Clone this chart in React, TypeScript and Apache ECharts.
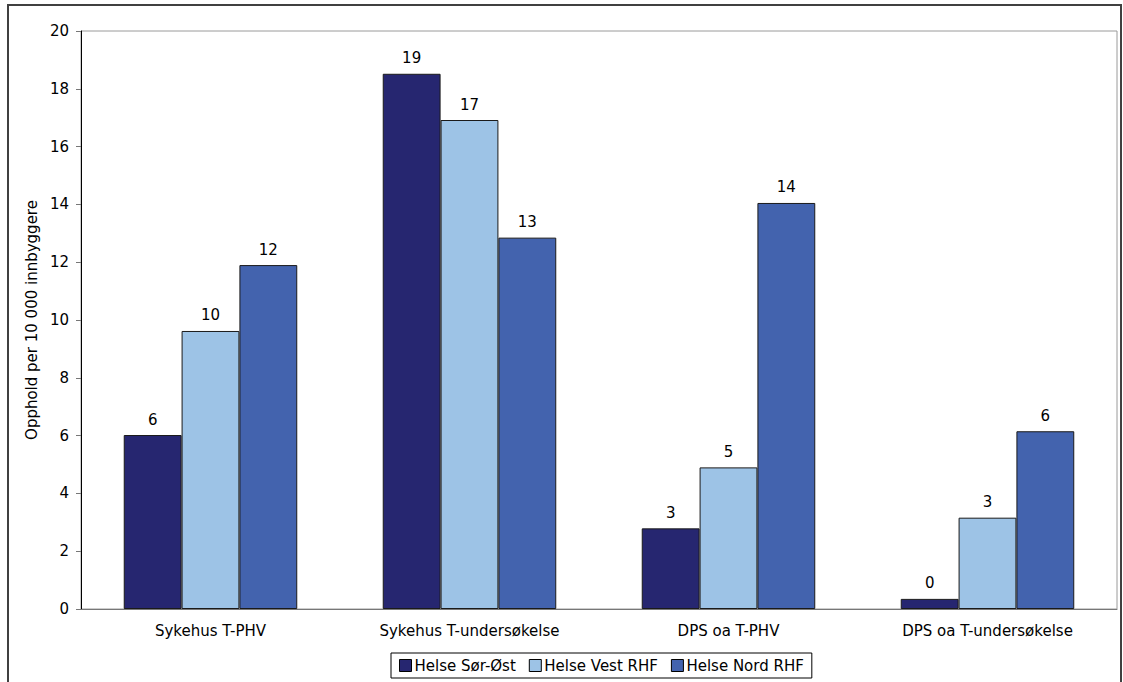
import React, { useEffect, useRef } from "react";
import * as echarts from "echarts";

const categories = ["Sykehus T-PHV", "Sykehus T-undersøkelse", "DPS oa T-PHV", "DPS oa T-undersøkelse"];
const seriesNames = ["Helse Sør-Øst", "Helse Vest RHF", "Helse Nord RHF"];
const sorOst = [6.02, 18.52, 2.79, 0.35];
const vest = [9.62, 16.92, 4.9, 3.16];
const nord = [11.9, 12.85, 14.05, 6.15];
const colors = ["#262670", "#9DC3E6", "#4363AE"];
const yTicks = { min: 0, max: 20, interval: 2 };

const FONT = "DejaVu Sans";

export default function App() {
  const ref = useRef<HTMLDivElement>(null);
  useEffect(() => {
    if (!ref.current) return;
    const chart = echarts.init(ref.current, null, { renderer: "svg" });
    const values = [sorOst, vest, nord];
    chart.setOption({
      animation: false,
      backgroundColor: "#ffffff",
      textStyle: { fontFamily: FONT },
      graphic: [
        {
          type: "rect",
          shape: { x: 8, y: 5, width: 1113, height: 700 },
          style: { fill: "none", stroke: "#404040", lineWidth: 2 },
          silent: true,
          z: 100,
        },
      ],
      grid: {
        left: 81,
        top: 31,
        right: 6,
        bottom: 73,
        show: true,
        borderColor: "#9a9a9a",
        borderWidth: 1,
      },
      legend: {
        data: seriesNames,
        left: 391,
        top: 653,
        orient: "horizontal",
        itemWidth: 12,
        itemHeight: 12,
        itemGap: 13,
        padding: [5, 8, 5, 8],
        borderColor: "#000000",
        borderWidth: 1,
        textStyle: { fontFamily: FONT, fontSize: 15, color: "#000", padding: [0, 0, 0, -2] },
        itemStyle: { borderColor: "#000", borderWidth: 1 },
        icon: "rect",
      },
      xAxis: {
        type: "category",
        data: categories,
        axisLine: { lineStyle: { color: "#777777", width: 1 } },
        axisTick: { show: false },
        axisLabel: { fontFamily: FONT, fontSize: 15, color: "#000", margin: 14 },
      },
      yAxis: {
        type: "value",
        min: yTicks.min,
        max: yTicks.max,
        interval: yTicks.interval,
        name: "Opphold per 10 000 innbyggere",
        nameLocation: "middle",
        nameGap: 42,
        nameTextStyle: { fontFamily: FONT, fontSize: 15, color: "#000" },
        axisLine: { show: true, lineStyle: { color: "#000", width: 1 } },
        axisTick: { show: true, length: 5, lineStyle: { color: "#777777" } },
        axisLabel: { fontFamily: FONT, fontSize: 15, color: "#000", margin: 12 },
        splitLine: { show: false },
      },
      series: seriesNames.map((name, i) => ({
        name,
        type: "bar",
        data: values[i],
        barGap: "0%",
        barCategoryGap: "33%",
        itemStyle: { color: colors[i], borderColor: "#1a1a1a", borderWidth: 1 },
        label: {
          show: true,
          position: "top",
          distance: 8,
          fontFamily: FONT,
          fontSize: 15,
          color: "#000",
          formatter: (p: any) => String(Math.round(p.value)),
        },
      })),
    });
    return () => chart.dispose();
  }, []);
  return (
    <div
      ref={ref}
      style={{ position: "fixed", left: 0, top: 0, width: 1123, height: 682 }}
    />
  );
}
